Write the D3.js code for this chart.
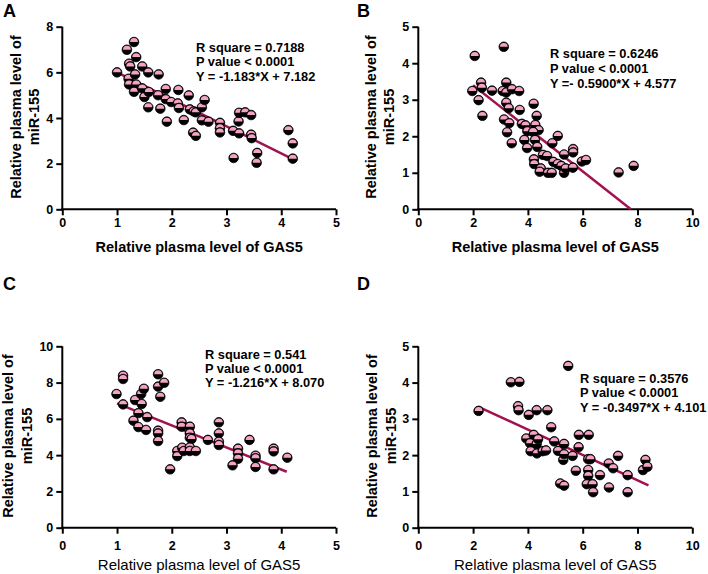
<!DOCTYPE html>
<html><head><meta charset="utf-8">
<script src="https://cdn.jsdelivr.net/npm/d3@7/dist/d3.min.js"></script>
<style>body{margin:0;background:#fff;} svg{display:block;font-family:"Liberation Sans",Arial,sans-serif;}</style>
</head><body>
<svg id="c" width="708" height="574"></svg>
<script>
// ---- Data ----
const panelLetters = ["A","B","C","D"];
const xTitle = "Relative plasma level of GAS5";
const yTitle1 = "Relative plasma level of";
const yTitle2 = "miR-155";

const xTicksA = [0,1,2,3,4,5], yTicksA = [0,2,4,6,8];
const xTicksB = [0,2,4,6,8,10], yTicksB = [0,1,2,3,4,5];
const xTicksC = [0,1,2,3,4,5], yTicksC = [0,2,4,6,8,10];
const xTicksD = [0,2,4,6,8,10], yTicksD = [0,1,2,3,4,5];

const statsA = ["R square = 0.7188","P value < 0.0001","Y = -1.183*X + 7.182"];
const statsB = ["R square = 0.6246","P value < 0.0001","Y =- 0.5900*X + 4.577"];
const statsC = ["R square = 0.541","P value < 0.0001","Y = -1.216*X + 8.070"];
const statsD = ["R square = 0.3576","P value < 0.0001","Y = -0.3497*X + 4.101"];

// regression: slope, intercept, x range
const fitA = {slope:-1.183, intercept:7.182, x0:1.0, x1:4.2};
const fitB = {slope:-0.59, intercept:4.577, x0:2.0, x1:7.758};
const fitC = {slope:-1.216, intercept:8.070, x0:1.0, x1:4.1};
const fitD = {slope:-0.3497, intercept:4.101, x0:2.2, x1:8.4};

const pointsA = [[1.0,6.0],[1.18,6.99],[1.31,7.33],[1.35,6.67],[1.22,6.38],[1.24,6.26],[1.21,5.72],[1.22,5.47],[1.33,5.91],[1.35,5.47],[1.31,5.15],[1.46,6.26],[1.57,6.0],[1.46,5.3],[1.50,4.92],[1.58,5.14],[1.57,4.47],[1.76,5.91],[1.75,5.0],[1.79,4.41],[1.89,5.27],[1.89,4.83],[1.99,4.7],[1.91,3.84],[2.12,5.23],[2.11,4.64],[2.13,4.44],[2.22,3.91],[2.31,4.99],[2.33,4.38],[2.40,4.29],[2.44,4.25],[2.55,4.47],[2.60,4.79],[2.55,3.9],[2.67,3.84],[2.39,3.36],[2.44,3.22],[2.88,3.79],[2.88,3.55],[2.88,3.37],[3.12,3.44],[3.13,2.25],[3.22,3.85],[3.23,4.23],[3.23,3.33],[3.34,4.25],[3.45,4.13],[3.45,3.27],[3.46,3.12],[3.56,2.47],[3.55,2.04],[4.13,3.47],[4.21,2.89],[4.21,2.22]];

const pointsB = [[2.06,4.20],[3.12,4.45],[1.97,3.24],[2.29,3.47],[2.32,3.33],[2.20,2.99],[2.34,2.56],[2.69,3.25],[3.08,3.24],[3.21,3.47],[3.21,3.2],[3.42,3.29],[3.68,3.24],[3.21,2.92],[3.30,2.77],[3.13,2.46],[3.32,2.36],[3.24,2.11],[3.41,1.81],[3.70,2.72],[3.78,2.34],[3.91,2.30],[3.98,2.14],[3.87,1.90],[3.97,1.68],[4.21,2.89],[4.32,2.56],[4.27,2.31],[4.39,2.17],[4.19,2.12],[4.26,1.90],[4.34,1.71],[4.22,1.37],[4.23,1.24],[4.55,1.49],[4.70,1.46],[4.47,1.12],[4.43,1.03],[4.73,1.00],[4.87,1.00],[4.89,1.81],[5.09,2.01],[4.93,1.30],[5.09,1.24],[5.22,1.19],[5.32,1.50],[5.32,1.00],[5.38,1.12],[5.65,1.65],[5.65,1.56],[5.64,1.14],[5.97,1.31],[6.12,1.35],[7.31,1.01],[7.86,1.19]];

const pointsC = [[0.99,7.37],[1.11,8.38],[1.11,8.2],[1.11,6.8],[1.33,7.04],[1.44,7.37],[1.49,7.66],[1.45,6.82],[1.39,6.32],[1.55,6.1],[1.30,5.9],[1.39,5.55],[1.53,5.39],[1.75,8.46],[1.75,7.78],[1.86,7.99],[1.79,7.22],[1.75,5.35],[1.75,5.2],[1.75,4.78],[1.97,3.22],[2.10,4.23],[2.10,3.95],[2.18,5.81],[2.18,5.57],[2.19,4.41],[2.22,4.23],[2.33,5.57],[2.33,5.2],[2.33,4.96],[2.36,4.89],[2.33,4.43],[2.33,4.23],[2.44,4.23],[2.66,4.84],[2.86,5.81],[2.86,5.2],[2.86,4.74],[2.86,4.56],[3.21,4.36],[3.21,4.1],[3.21,3.8],[3.11,3.44],[3.42,4.84],[3.53,3.97],[3.53,3.83],[3.53,3.35],[3.86,4.36],[3.86,4.21],[3.86,3.22],[4.11,3.86]];

const pointsD = [[2.20,3.22],[3.38,4.01],[3.69,4.02],[5.47,4.46],[3.64,3.35],[3.66,3.24],[4.03,3.11],[4.32,3.24],[4.71,3.24],[4.85,2.77],[3.94,2.46],[4.21,2.56],[4.08,2.33],[4.32,2.31],[4.37,2.44],[4.10,2.11],[4.33,2.05],[4.54,2.11],[4.66,2.13],[4.96,2.38],[5.10,2.12],[5.32,2.31],[5.29,1.87],[5.32,2.03],[5.63,1.98],[5.85,2.22],[5.86,2.56],[6.22,2.56],[5.75,1.57],[5.18,1.22],[5.32,1.16],[6.20,1.89],[6.28,1.89],[6.20,1.59],[6.20,1.43],[6.15,1.2],[6.36,1.2],[6.38,0.98],[6.63,1.45],[6.95,1.77],[7.11,1.64],[7.29,1.98],[6.96,1.11],[7.64,1.45],[7.64,0.98],[8.20,1.59],[8.29,1.87],[8.36,1.68]];

// ---- Layout ----
const PINK = "#f4a3c5", LINE = "#a11350";
const svg = d3.select("#c");

const panels = [
 {letter:panelLetters[0], lx:3, ly:17, pts:pointsA, fit:fitA, stats:statsA, xt:xTicksA, yt:yTicksA, xr:[62.3,336], yr:[209.3,26.7], sx:196, sy:51.5, ls:14.7, xtw:"bold", xtb:252, xlabOff:18, yl1:21, yl2:39, ycy:117},
 {letter:panelLetters[1], lx:357, ly:17, pts:pointsB, fit:fitB, stats:statsB, xt:xTicksB, yt:yTicksB, xr:[418.3,692.3], yr:[209.3,26.7], sx:550, sy:58, ls:15, xtw:"bold", xtb:252, xlabOff:18, yl1:375.5, yl2:394, ycy:117},
 {letter:panelLetters[2], lx:3, ly:290, pts:pointsC, fit:fitC, stats:statsC, xt:xTicksC, yt:yTicksC, xr:[62.3,336], yr:[527.7,346.3], sx:205, sy:359, ls:14, xtw:"normal", xtb:570, xlabOff:22.5, yl1:13, yl2:31.5, ycy:436},
 {letter:panelLetters[3], lx:357, ly:290, pts:pointsD, fit:fitD, stats:statsD, xt:xTicksD, yt:yTicksD, xr:[418.3,692.3], yr:[527.7,346.3], sx:580, sy:382.5, ls:14.5, xtw:"normal", xtb:570, xlabOff:22.5, yl1:377, yl2:395.5, ycy:436}
];

panels.forEach(p => {
  const x = d3.scaleLinear().domain([p.xt[0], p.xt[p.xt.length-1]]).range(p.xr);
  const y = d3.scaleLinear().domain([p.yt[0], p.yt[p.yt.length-1]]).range(p.yr);
  const g = svg.append("g");

  svg.append("text").attr("x",p.lx).attr("y",p.ly).attr("font-size",18).attr("font-weight","bold").text(p.letter);

  const xa = g.append("g").attr("transform",`translate(0,${p.yr[0]})`)
    .call(d3.axisBottom(x).tickValues(p.xt).tickSize(6).tickSizeOuter(0).tickFormat(d3.format("d")));
  const ya = g.append("g").attr("transform",`translate(${p.xr[0]},0)`)
    .call(d3.axisLeft(y).tickValues(p.yt).tickSize(6).tickSizeOuter(0).tickFormat(d3.format("d")));
  [xa,ya].forEach(a => {
    a.select(".domain").attr("stroke","#000").attr("stroke-width",2);
    a.selectAll(".tick line").attr("stroke","#000").attr("stroke-width",2);
    a.selectAll(".tick text").attr("font-size",12.5).attr("font-weight","bold").attr("fill","#000")
      .attr("font-family","'Liberation Sans',Arial,sans-serif");
  });
  xa.selectAll(".tick text").attr("y",p.xlabOff).attr("dy",0);
  ya.selectAll(".tick text").attr("x",-9);
  xa.select(".domain").attr("d",`M${p.xr[0]-1},0H${p.xr[1]}`);
  ya.select(".domain").attr("d",`M0,${p.yr[0]+1}V${p.yr[1]}`);

  g.append("line")
    .attr("x1",x(p.fit.x0)).attr("y1",y(p.fit.slope*p.fit.x0+p.fit.intercept))
    .attr("x2",x(p.fit.x1)).attr("y2",y(p.fit.slope*p.fit.x1+p.fit.intercept))
    .attr("stroke",LINE).attr("stroke-width",2.5);

  const r = 4.8;
  const pg = g.append("g");
  p.pts.forEach(d => {
    const cx = x(d[0]), cy = y(d[1]);
    pg.append("circle").attr("cx",cx).attr("cy",cy).attr("r",r).attr("fill","#000").attr("stroke","#000").attr("stroke-width",0.8);
    const ri = r - 0.9;
    pg.append("path").attr("d",`M${cx-ri},${cy}A${ri},${ri} 0 0 1 ${cx+ri},${cy}Z`).attr("fill",PINK);
  });

  p.stats.forEach((s,i) => {
    svg.append("text").attr("x",p.sx).attr("y",p.sy+i*p.ls).attr("font-size",12.8).attr("font-weight","bold").text(s);
  });

  svg.append("text").attr("x",(p.xr[0]+p.xr[1])/2).attr("y",p.xtb).attr("text-anchor","middle")
    .attr("font-size",p.xtw==="bold"?14.5:15).attr("font-weight",p.xtw).text(xTitle);

  [[yTitle1,p.yl1],[yTitle2,p.yl2]].forEach(([t,bx]) => {
    svg.append("text").attr("transform",`translate(${bx},${p.ycy}) rotate(-90)`).attr("text-anchor","middle")
      .attr("font-size",14.5).attr("font-weight","bold").text(t);
  });
});
</script>
</body></html>
